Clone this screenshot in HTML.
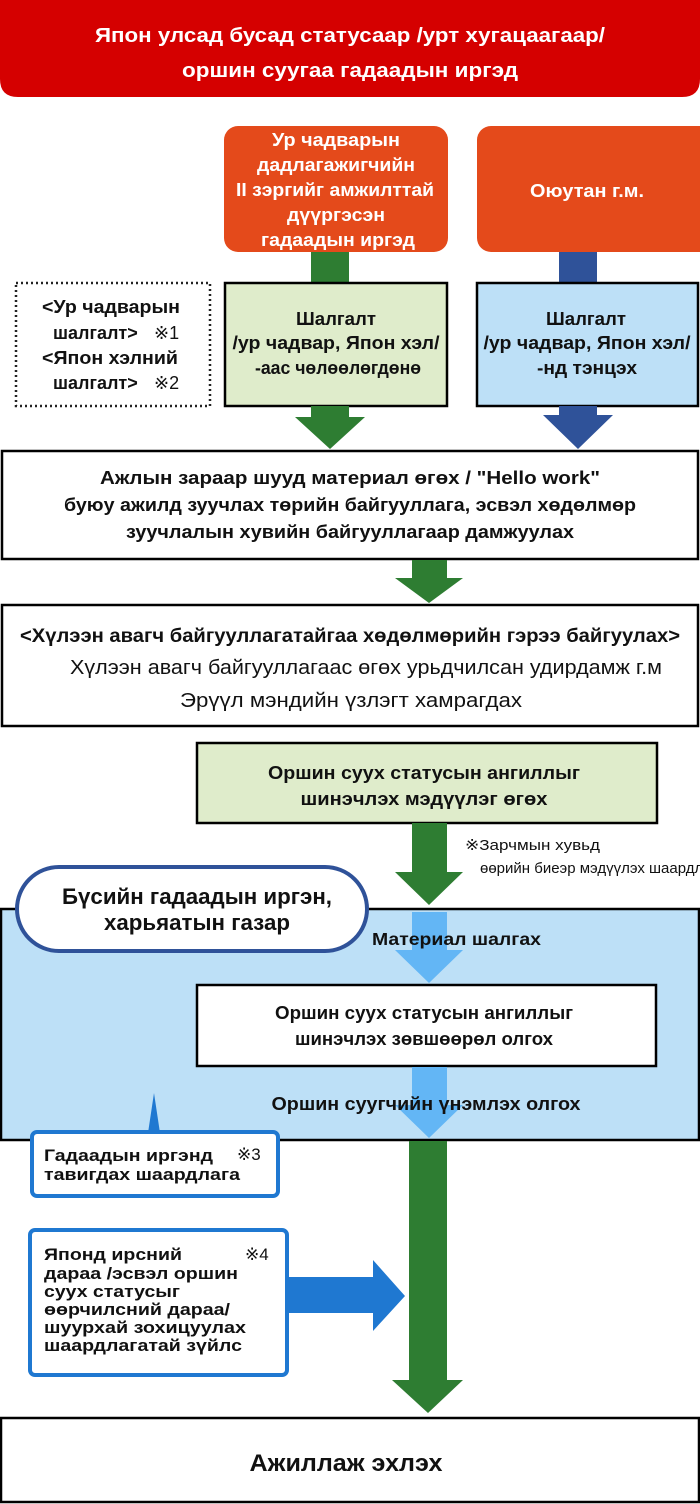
<!DOCTYPE html>
<html><head><meta charset="utf-8"><style>
html,body{margin:0;padding:0;background:#fff}
svg{display:block}
text{font-family:"Liberation Sans","DejaVu Sans",sans-serif;font-weight:bold;fill:#111}
.w{fill:#fff}
.n{font-weight:normal}
</style></head><body>
<svg width="700" height="1504" viewBox="0 0 700 1504" xmlns="http://www.w3.org/2000/svg">
<!-- header -->
<path d="M0 0H700V79Q700 97 682 97H18Q0 97 0 79Z" fill="#d50000"/>
<text class="w" x="350" y="42" text-anchor="middle" font-size="20" textLength="510" lengthAdjust="spacingAndGlyphs">Япон улсад бусад статусаар /урт хугацаагаар/</text>
<text class="w" x="350" y="77" text-anchor="middle" font-size="20" textLength="336" lengthAdjust="spacingAndGlyphs">оршин суугаа гадаадын иргэд</text>

<!-- orange boxes -->
<rect x="224" y="126" width="224" height="126" rx="14" fill="#e44a1b"/>
<rect x="477" y="126" width="240" height="126" rx="14" fill="#e44a1b"/>
<g font-size="18.5" text-anchor="middle">
<text class="w" x="336" y="146" textLength="128" lengthAdjust="spacingAndGlyphs">Ур чадварын</text>
<text class="w" x="336" y="171" textLength="158" lengthAdjust="spacingAndGlyphs">дадлагажигчийн</text>
<text class="w" x="335" y="196" textLength="198" lengthAdjust="spacingAndGlyphs">II зэргийг амжилттай</text>
<text class="w" x="336" y="221" textLength="98" lengthAdjust="spacingAndGlyphs">дүүргэсэн</text>
<text class="w" x="338" y="246" textLength="154" lengthAdjust="spacingAndGlyphs">гадаадын иргэд</text>
<text class="w" x="587" y="197" textLength="114" lengthAdjust="spacingAndGlyphs">Оюутан г.м.</text>
</g>

<!-- stems -->
<rect x="311" y="252" width="38" height="31" fill="#2e7d32"/>
<rect x="559" y="252" width="38" height="31" fill="#2f5299"/>

<!-- dotted box -->
<rect x="16" y="283" width="194" height="123" fill="none" stroke="#222" stroke-width="2.5" stroke-dasharray="2,3"/>
<g font-size="18">
<text x="42" y="313" textLength="138" lengthAdjust="spacingAndGlyphs">&lt;Ур чадварын</text>
<text x="53" y="339">шалгалт&gt;</text><text x="154" y="339" class="n">※1</text>
<text x="42" y="364" textLength="136" lengthAdjust="spacingAndGlyphs">&lt;Япон хэлний</text>
<text x="53" y="389">шалгалт&gt;</text><text x="154" y="389" class="n">※2</text>
</g>

<!-- test boxes -->
<rect x="225" y="283" width="222" height="123" fill="#dfeccb" stroke="#000" stroke-width="2.5"/>
<rect x="477" y="283" width="221" height="123" fill="#bde0f7" stroke="#000" stroke-width="2.5"/>
<g font-size="18" text-anchor="middle">
<text x="336" y="325" textLength="80" lengthAdjust="spacingAndGlyphs">Шалгалт</text>
<text x="336" y="349" textLength="207" lengthAdjust="spacingAndGlyphs">/ур чадвар, Япон хэл/</text>
<text x="338" y="374" textLength="166" lengthAdjust="spacingAndGlyphs">-аас чөлөөлөгдөнө</text>
<text x="586" y="325" textLength="80" lengthAdjust="spacingAndGlyphs">Шалгалт</text>
<text x="587" y="349" textLength="207" lengthAdjust="spacingAndGlyphs">/ур чадвар, Япон хэл/</text>
<text x="587" y="374" textLength="100" lengthAdjust="spacingAndGlyphs">-нд тэнцэх</text>
</g>
<path d="M311 406H349V417H365L330 449L295 417H311Z" fill="#2e7d32"/>
<path d="M559 406H597V415H613L578 449L543 415H559Z" fill="#2f5299"/>

<!-- box1 -->
<rect x="2" y="451" width="696" height="108" fill="#fff" stroke="#000" stroke-width="2.5"/>
<g font-size="18" text-anchor="middle">
<text x="350" y="484" textLength="500" lengthAdjust="spacingAndGlyphs">Ажлын зараар шууд материал өгөх / "Hello work"</text>
<text x="350" y="511" textLength="572" lengthAdjust="spacingAndGlyphs">буюу ажилд зуучлах төрийн байгууллага, эсвэл хөдөлмөр</text>
<text x="350" y="538" textLength="448" lengthAdjust="spacingAndGlyphs">зуучлалын хувийн байгууллагаар дамжуулах</text>
</g>
<path d="M412 560H447V578H463L429 603L395 578H412Z" fill="#2e7d32"/>

<!-- box2 -->
<rect x="2" y="605" width="696" height="121" fill="#fff" stroke="#000" stroke-width="2.5"/>
<text x="350" y="642" text-anchor="middle" font-size="19" textLength="660" lengthAdjust="spacingAndGlyphs">&lt;Хүлээн авагч байгууллагатайгаа хөдөлмөрийн гэрээ байгуулах&gt;</text>
<text x="366" y="674" text-anchor="middle" font-size="20" class="n" textLength="592" lengthAdjust="spacingAndGlyphs">Хүлээн авагч байгууллагаас өгөх урьдчилсан удирдамж г.м</text>
<text x="351" y="707" text-anchor="middle" font-size="20" class="n" textLength="342" lengthAdjust="spacingAndGlyphs">Эрүүл мэндийн үзлэгт хамрагдах</text>

<!-- green box 3 -->
<rect x="197" y="743" width="460" height="80" fill="#dfeccb" stroke="#000" stroke-width="2.5"/>
<text x="424" y="779" text-anchor="middle" font-size="18" textLength="312" lengthAdjust="spacingAndGlyphs">Оршин суух статусын ангиллыг</text>
<text x="424" y="805" text-anchor="middle" font-size="18" textLength="247" lengthAdjust="spacingAndGlyphs">шинэчлэх мэдүүлэг өгөх</text>
<path d="M412 823H447V872H463L429 905L395 872H412Z" fill="#2e7d32"/>
<text x="465" y="850" font-size="15" class="n" textLength="135" lengthAdjust="spacingAndGlyphs">※Зарчмын хувьд</text>
<text x="480" y="873" font-size="15" class="n">өөрийн биеэр мэдүүлэх шаардлагатай</text>

<!-- blue region -->
<rect x="1" y="909" width="698" height="231" fill="#bde0f7" stroke="#000" stroke-width="2.5"/>
<rect x="17" y="867" width="350" height="84" rx="42" fill="#fff" stroke="#2f5299" stroke-width="4"/>
<text x="197" y="904" text-anchor="middle" font-size="22" textLength="270" lengthAdjust="spacingAndGlyphs">Бүсийн гадаадын иргэн,</text>
<text x="197" y="930" text-anchor="middle" font-size="22" textLength="186" lengthAdjust="spacingAndGlyphs">харьяатын газар</text>
<path d="M412 912H447V950H463L429 983L395 950H412Z" fill="#63b6f5"/>
<text x="372" y="945" font-size="17.5" textLength="169" lengthAdjust="spacingAndGlyphs">Материал шалгах</text>
<rect x="197" y="985" width="459" height="81" fill="#fff" stroke="#000" stroke-width="2.5"/>
<text x="424" y="1019" text-anchor="middle" font-size="18" textLength="298" lengthAdjust="spacingAndGlyphs">Оршин суух статусын ангиллыг</text>
<text x="424" y="1045" text-anchor="middle" font-size="18" textLength="258" lengthAdjust="spacingAndGlyphs">шинэчлэх зөвшөөрөл олгох</text>
<path d="M412 1067H447V1105H463L429 1138L395 1105H412Z" fill="#63b6f5"/>
<text x="426" y="1110" text-anchor="middle" font-size="18" textLength="309" lengthAdjust="spacingAndGlyphs">Оршин суугчийн үнэмлэх олгох</text>

<!-- green long arrow -->
<rect x="409" y="1141" width="38" height="241" fill="#2e7d32"/>
<path d="M392 1380H463L428 1413Z" fill="#2e7d32"/>

<!-- callout 3 -->
<path d="M148 1133L154 1093L160 1133Z" fill="#1f78d1"/>
<rect x="32" y="1132" width="246" height="64" rx="5" fill="#fff" stroke="#1f78d1" stroke-width="4"/>
<text x="44" y="1161" font-size="17" textLength="169" lengthAdjust="spacingAndGlyphs">Гадаадын иргэнд</text>
<text x="237" y="1160" font-size="17" class="n">※3</text>
<text x="44" y="1180" font-size="17" textLength="196" lengthAdjust="spacingAndGlyphs">тавигдах шаардлага</text>

<!-- callout 4 -->
<rect x="30" y="1230" width="257" height="145" rx="5" fill="#fff" stroke="#1f78d1" stroke-width="4"/>
<path d="M288 1277H373V1260L405 1296L373 1331V1313H288Z" fill="#1f78d1"/>
<g font-size="17">
<text x="44" y="1260" textLength="138" lengthAdjust="spacingAndGlyphs">Японд ирсний</text>
<text x="245" y="1260" class="n">※4</text>
<text x="44" y="1279" textLength="194" lengthAdjust="spacingAndGlyphs">дараа /эсвэл оршин</text>
<text x="44" y="1297" textLength="136" lengthAdjust="spacingAndGlyphs">суух статусыг</text>
<text x="44" y="1315" textLength="186" lengthAdjust="spacingAndGlyphs">өөрчилсний дараа/</text>
<text x="44" y="1333" textLength="202" lengthAdjust="spacingAndGlyphs">шуурхай зохицуулах</text>
<text x="44" y="1351" textLength="198" lengthAdjust="spacingAndGlyphs">шаардлагатай зүйлс</text>
</g>

<!-- final -->
<rect x="1" y="1418" width="698" height="84" fill="#fff" stroke="#000" stroke-width="2.5"/>
<text x="346" y="1471" text-anchor="middle" font-size="24" textLength="193" lengthAdjust="spacingAndGlyphs">Ажиллаж эхлэх</text>
</svg>
</body></html>
